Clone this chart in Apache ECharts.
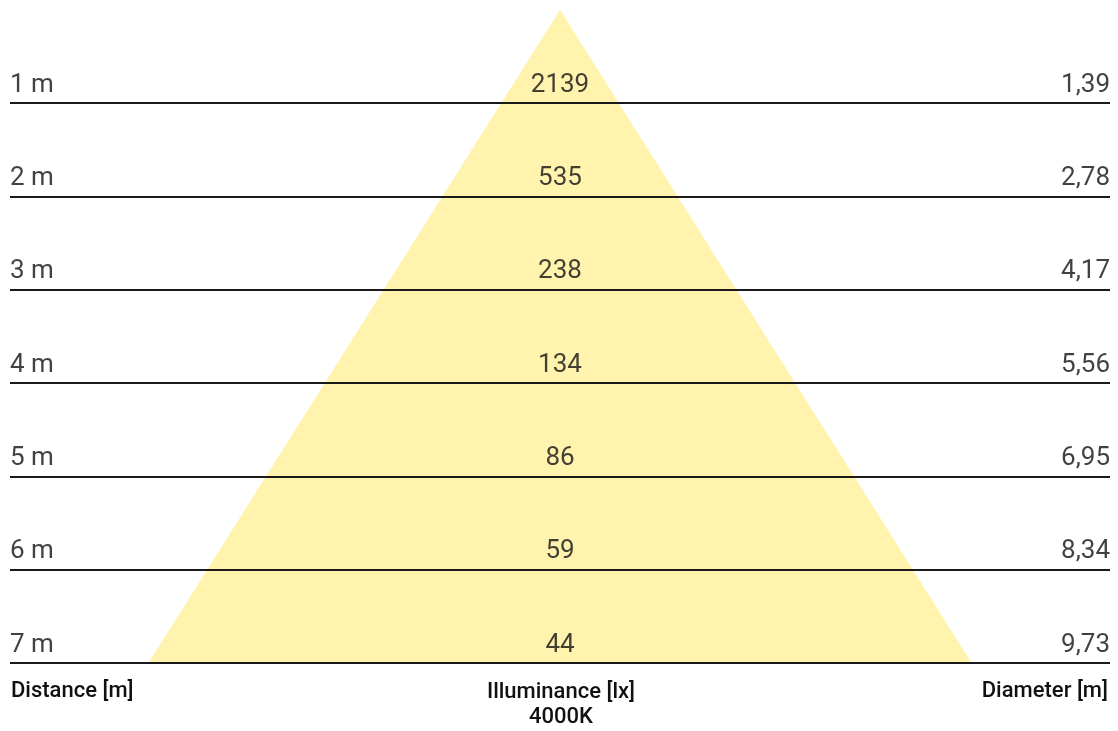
<!DOCTYPE html>
<html>
<head>
<meta charset="utf-8">
<script src="https://cdn.jsdelivr.net/npm/echarts@6/dist/echarts.min.js"></script>
<style>html,body{margin:0;padding:0;background:#fff}#c{width:1118px;height:731px}</style>
</head>
<body>
<div id="c"></div>
<script>
const distances = [1, 2, 3, 4, 5, 6, 7];
const illuminance = [2139, 535, 238, 134, 86, 59, 44];
const diameters = ['1,39', '2,78', '4,17', '5,56', '6,95', '8,34', '9,73'];
const bottomLabels = ['Distance [m]', 'Illuminance [lx]\n4000K', 'Diameter [m]'];

const diamNum = diameters.map(s => parseFloat(s.replace(',', '.')));
const maxD = distances[distances.length - 1];
const halfBase = diamNum[diamNum.length - 1] / 2;
const XMIN = -6.5, XMAX = 6.5;

const font = 'Roboto, "Noto Sans", sans-serif';
const txt = '#111111';

const chart = echarts.init(document.getElementById('c'), null, {renderer: 'canvas'});
const labelSeries = (xv, fmt, align) => ({
  type: 'scatter',
  symbolSize: 0,
  silent: true,
  z: 5,
  data: distances.map((d, i) => [xv, d, i]),
  label: {
    show: true,
    position: 'top',
    distance: 5,
    align: align,
    formatter: p => fmt(p.data[2]),
    fontFamily: font,
    fontSize: 26,
    color: txt
  }
});

chart.setOption({
  animation: false,
  grid: {left: 10, right: 8, top: 9.67, bottom: 68},
  xAxis: {type: 'value', min: XMIN, max: XMAX, show: false},
  yAxis: {type: 'value', min: 0, max: maxD, inverse: true, show: false},
  series: [
    {
      type: 'line',
      silent: true,
      z: 1,
      symbol: 'none',
      lineStyle: {width: 0},
      areaStyle: {color: '#FFF3AE', opacity: 1, origin: 'end'},
      data: [[-halfBase, maxD], [0, 0], [halfBase, maxD]],
      markLine: {
        silent: true,
        symbol: 'none',
        label: {show: false},
        lineStyle: {color: '#1a1a1a', width: 2, type: 'solid'},
        data: distances.map(d => ({yAxis: d}))
      }
    },
    labelSeries(XMIN, i => distances[i] + ' m', 'left'),
    labelSeries(0, i => String(illuminance[i]), 'center'),
    labelSeries(XMAX, i => diameters[i], 'right')
  ],
  graphic: [
    {type: 'text', left: 11, top: 680, style: {text: bottomLabels[0], font: '500 22px ' + font, fill: txt}},
    {type: 'text', x: 561, y: 680, style: {text: bottomLabels[1], font: '500 22px ' + font, fill: txt, align: 'center', lineHeight: 25}},
    {type: 'text', right: 10, top: 680, style: {text: bottomLabels[2], font: '500 22px ' + font, fill: txt}}
  ]
});
</script>
</body>
</html>
